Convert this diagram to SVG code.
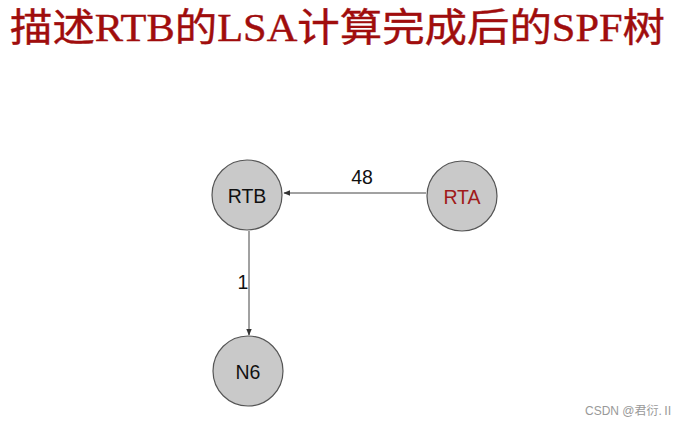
<svg xmlns="http://www.w3.org/2000/svg" width="685" height="428" viewBox="0 0 685 428">
<style>
.node circle{fill:#c9c9c9;stroke:#555;stroke-width:1.2}
.lbl{font-family:"Liberation Sans",Arial,sans-serif;font-size:19.5px;text-anchor:middle;fill:#111}
.edge{stroke:#444;stroke-width:1;fill:none;marker-end:url(#ah)}
</style>
<defs>
<marker id="ah" viewBox="0 0 10 10" refX="9" refY="5" markerWidth="7" markerHeight="7" orient="auto" markerUnits="userSpaceOnUse">
<path d="M0,1 L10,5 L0,9 z" fill="#333"/>
</marker>
</defs>
<rect width="685" height="428" fill="#fff"/>
<text x="10" y="41" font-family="'Liberation Serif','Noto Sans CJK SC',serif" font-size="39" fill="#a00d0d" stroke="#a00d0d" stroke-width="0.4" textLength="655" lengthAdjust="spacingAndGlyphs">描述RTB的LSA计算完成后的SPF树</text>
<g id="connectors">
<line class="edge" x1="426" y1="193" x2="284" y2="193"/>
<text class="lbl" x="362" y="184">48</text>
<line class="edge" x1="249" y1="231" x2="249" y2="335"/>
<text class="lbl" x="243" y="289">1</text>
</g>
<g id="RTB" class="node">
<circle cx="247" cy="195" r="35"/>
<text class="lbl" x="247" y="203">RTB</text>
</g>
<g id="RTA" class="node">
<circle cx="462" cy="196" r="35"/>
<text class="lbl" x="462" y="204" style="fill:#a01a1a">RTA</text>
</g>
<g id="N6" class="node">
<circle cx="248" cy="371" r="35"/>
<text class="lbl" x="248" y="379">N6</text>
</g>
<text x="585" y="415" font-family="'Liberation Sans','Noto Sans CJK SC',sans-serif" font-size="12" fill="#999">CSDN @君衍.Ⅱ</text>
</svg>
